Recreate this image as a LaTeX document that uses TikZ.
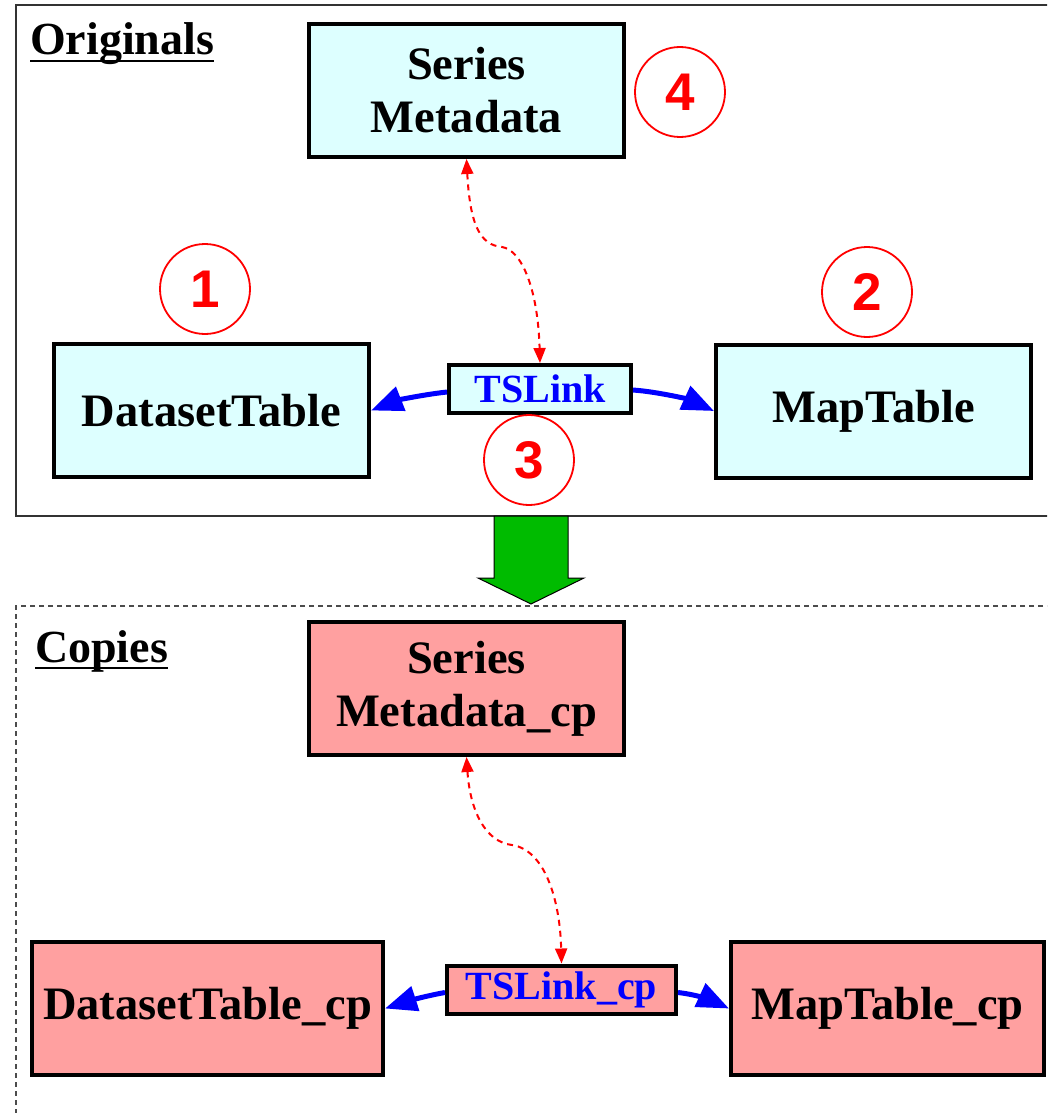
\documentclass[tikz,border=0pt]{standalone}
\usepackage{fontspec}
\setmainfont{Liberation Serif}
\newfontfamily\numfont{Liberation Sans}
\usetikzlibrary{arrows.meta}
\definecolor{cyanfill}{HTML}{DDFFFF}
\definecolor{pinkfill}{HTML}{FFA0A0}
\definecolor{arrgreen}{HTML}{00BB00}
\begin{document}
\begin{tikzpicture}[x=1pt,y=-1pt,
  tbl/.style={draw=black, line width=4pt, minimum width=315pt, minimum height=133pt, inner sep=0pt, align=center, font=\fontsize{46.5}{53}\selectfont\bfseries},
  orig/.style={tbl, fill=cyanfill},
  copyb/.style={tbl, fill=pinkfill},
  lnk/.style={draw=black, line width=4pt, inner sep=0pt, text=blue, font=\fontsize{40}{45}\selectfont\bfseries, minimum height=48pt},
  num/.style={circle, draw=red, line width=1.8pt, minimum size=90pt, inner sep=0pt, text=red, font=\numfont\fontsize{53}{56}\selectfont\bfseries},
  meta/.style={{Triangle[length=15pt,width=12pt]}-{Triangle[length=15pt,width=12pt]}, red, line width=2pt, dash pattern=on 6pt off 5pt},
  blink/.style={-{Triangle[length=32pt,width=25pt]}, blue, line width=5pt},
  heading/.style={inner sep=0pt, anchor=base west, font=\fontsize{46}{50}\selectfont\bfseries}
]
\useasboundingbox (0,0) rectangle (1047,1113);
\clip (0,0) rectangle (1047,1113);
% frames
\draw[line width=1.3pt, black!80] (16,5) rectangle (1070,516);
\draw[line width=1.2pt, black!70, dash pattern=on 5pt off 4pt] (1070,606) -- (16,606) -- (16,1130);
% green arrow
\draw[fill=arrgreen, line width=1pt] (494,516) -- (568,516) -- (568,578) -- (584,578) -- (531,604) -- (478,578) -- (494,578) -- cycle;
% headings
\node[heading] (ho) at (30,55) {Originals};
\draw[line width=2.5pt] ([yshift=-6pt]ho.base west) -- ([yshift=-6pt]ho.base east);
\node[heading] (hc) at (35,662) {Copies};
\draw[line width=2.5pt] ([yshift=-6pt]hc.base west) -- ([yshift=-6pt]hc.base east);
% originals
\node[orig] (sm) at (466.5,90.5) {Series\\Metadata};
\node[orig] (dt) at (211.5,410.5) {DatasetTable};
\node[orig] (mt) at (873.5,411) {MapTable};
\node[lnk, fill=cyanfill, minimum width=182pt] (tl) at (540,389) {TSLink};
\node[num] (n1) at (205,289) {1};
\node[num] (n2) at (867,292) {2};
\node[num] (n3) at (529,460) {3};
\node[num] (n4) at (680,92) {4};
\draw[meta] (sm.south) .. controls (470,225) and (480,245) .. (502,247) .. controls (522,250) and (538,290) .. (tl.north);
\draw[blink] ([yshift=-3pt]tl.west) .. controls (420,395) and (395,401) .. (dt.east);
\draw[blink] ([yshift=-1pt]tl.east) .. controls (660,392) and (690,400) .. (mt.west);
% copies
\node[copyb] (smc) at (466.5,688.5) {Series\\Metadata\_cp};
\node[copyb, minimum width=351pt] (dtc) at (207.5,1008.5) {DatasetTable\_cp};
\node[copyb, minimum width=313pt] (mtc) at (887.5,1008.5) {MapTable\_cp};
\node[lnk, fill=pinkfill, minimum width=229pt] (tlc) at (561.5,989.5) {TSLink\_cp};
\draw[meta] (smc.south) .. controls (470,810) and (485,842) .. (512,845) .. controls (545,850) and (560,900) .. (tlc.north);
\draw[blink] ([yshift=-3pt]tlc.west) .. controls (425,996) and (405,1002) .. (dtc.east);
\draw[blink] ([yshift=-3pt]tlc.east) .. controls (700,995) and (715,1002) .. (mtc.west);
\end{tikzpicture}
\end{document}
